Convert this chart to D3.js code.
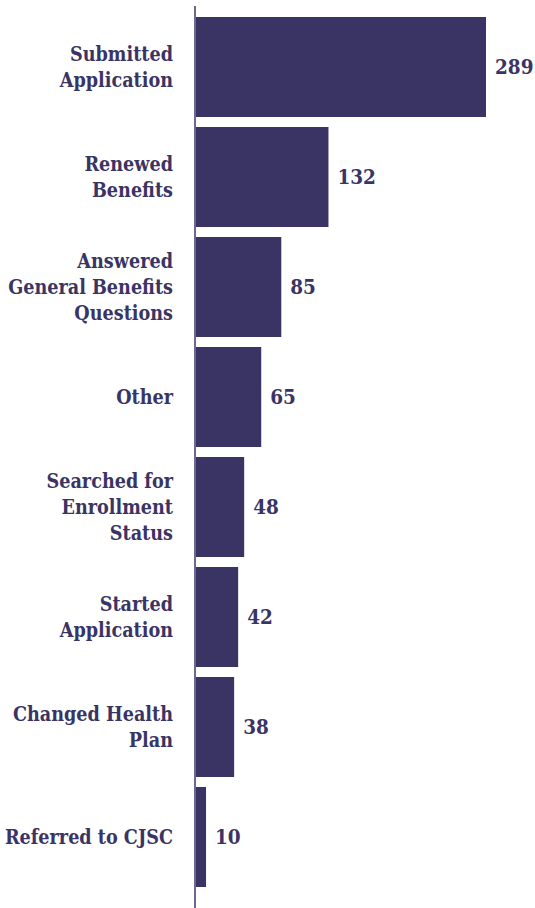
<!DOCTYPE html>
<html>
<head>
<meta charset="utf-8">
<script src="https://cdn.jsdelivr.net/npm/d3@7/dist/d3.min.js"></script>
<style>
  html, body { margin: 0; padding: 0; background: #ffffff; }
  svg { display: block; }
  text { font-family: "DejaVu Serif Condensed", "DejaVu Serif", serif; font-weight: bold; fill: #3a3464; }
</style>
</head>
<body>
<svg id="chart" width="535" height="908"></svg>
<script>
// Activities recorded, one bar per activity type
const categories = [
  "Submitted Application",
  "Renewed Benefits",
  "Answered General Benefits Questions",
  "Other",
  "Searched for Enrollment Status",
  "Started Application",
  "Changed Health Plan",
  "Referred to CJSC"
];
// Multi-line label text for each category
const labelLines = [
  ["Submitted", "Application"],
  ["Renewed", "Benefits"],
  ["Answered", "General Benefits", "Questions"],
  ["Other"],
  ["Searched for", "Enrollment", "Status"],
  ["Started", "Application"],
  ["Changed Health", "Plan"],
  ["Referred to CJSC"]
];
const counts = [289, 132, 85, 65, 48, 42, 38, 10];

const barColor = "#3a3464";
const axisColor = "#6e6790";

const svg = d3.select("#chart");

const x = d3.scaleLinear().domain([0, 289]).range([196, 486]);
const y = d3.scaleBand()
  .domain(categories)
  .range([12, 892])
  .paddingInner(1 / 11)
  .paddingOuter(1 / 22);

// Bars
svg.append("g")
  .selectAll("rect")
  .data(categories)
  .join("rect")
  .attr("x", x(0))
  .attr("y", d => y(d))
  .attr("width", (d, i) => x(counts[i]) - x(0))
  .attr("height", y.bandwidth())
  .attr("fill", barColor);

// Vertical baseline
svg.append("line")
  .attr("x1", 195).attr("x2", 195)
  .attr("y1", 6).attr("y2", 908)
  .attr("stroke", axisColor)
  .attr("stroke-width", 2);

// Category labels, right-aligned left of the baseline
const lineH = 26;
const labels = svg.append("g")
  .selectAll("text")
  .data(categories)
  .join("text")
  .attr("text-anchor", "end")
  .attr("font-size", 19.6);

labels.each(function (d, i) {
  const lines = labelLines[i];
  const cy = y(d) + y.bandwidth() / 2;
  const first = cy - (lines.length - 1) * lineH / 2;
  d3.select(this).selectAll("tspan")
    .data(lines)
    .join("tspan")
    .attr("x", 173)
    .attr("y", (l, j) => first + j * lineH)
    .attr("dy", "0.35em")
    .text(l => l);
});

// Value labels at the end of each bar
svg.append("g")
  .selectAll("text")
  .data(categories)
  .join("text")
  .attr("x", (d, i) => x(counts[i]) + 9)
  .attr("y", d => y(d) + y.bandwidth() / 2)
  .attr("dy", "0.35em")
  .attr("font-size", 20.5)
  .text((d, i) => counts[i]);
</script>
</body>
</html>
